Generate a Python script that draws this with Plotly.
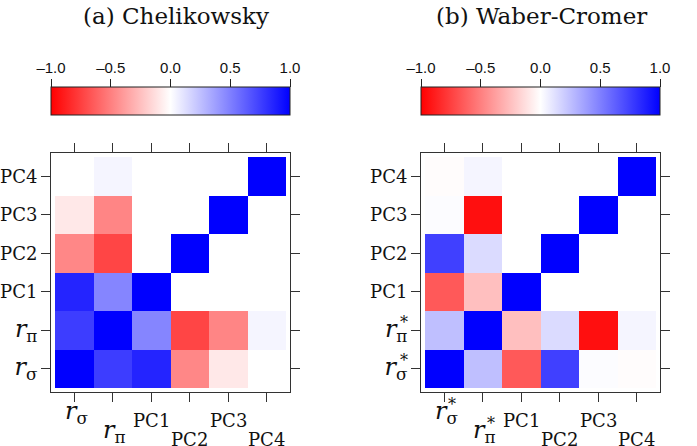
import plotly.graph_objects as go

W, H = 697, 446

# ---------------- data ----------------
idx = [0, 1, 2, 3, 4, 5]
var_labels = ["<span style='font-size:24px'><i>r</i><sub>σ</sub></span>",
              "<span style='font-size:24px'><i>r</i><sub>π</sub></span>",
              "PC1", "PC2", "PC3", "PC4"]
is_math = [True, True, False, False, False, False]
stars_a = [False, False, False, False, False, False]
stars_b = [True, True, False, False, False, False]

# (a) Chelikowsky correlation matrix rows (order: r_sigma, r_pi, PC1, PC2, PC3, PC4)
a_rsigma = [1.00, 0.76, 0.86, -0.47, -0.09, 0.00]
a_rpi    = [0.76, 1.00, 0.48, -0.73, -0.48, 0.04]
a_pc1    = [0.86, 0.48, 1.00, 0.00, 0.00, 0.00]
a_pc2    = [-0.47, -0.73, 0.00, 1.00, 0.00, 0.00]
a_pc3    = [-0.09, -0.48, 0.00, 0.00, 1.00, 0.00]
a_pc4    = [0.00, 0.04, 0.00, 0.00, 0.00, 1.00]

# (b) Waber-Cromer correlation matrix rows
b_rsigma = [1.00, 0.25, -0.65, 0.75, 0.01, -0.01]
b_rpi    = [0.25, 1.00, -0.25, 0.14, -0.94, 0.04]
b_pc1    = [-0.65, -0.25, 1.00, 0.00, 0.00, 0.00]
b_pc2    = [0.75, 0.14, 0.00, 1.00, 0.00, 0.00]
b_pc3    = [0.01, -0.94, 0.00, 0.00, 1.00, 0.00]
b_pc4    = [-0.01, 0.04, 0.00, 0.00, 0.00, 1.00]

cbar_ticks = [-1.0, -0.5, 0.0, 0.5, 1.0]
cbar_labels = ["–1.0", "–0.5", "0.0", "0.5", "1.0"]

titles = ["(a) Chelikowsky", "(b) Waber-Cromer"]

z_a = [a_rsigma, a_rpi, a_pc1, a_pc2, a_pc3, a_pc4]
z_b = [b_rsigma, b_rpi, b_pc1, b_pc2, b_pc3, b_pc4]

# ---------------- layout geometry (pixels) ----------------
FT, FB = 153, 392          # frame top / bottom
CB_T, CB_B = 88, 116       # colorbar top / bottom
PAD = 0.604
SERIF = "DejaVu Serif"
SANS = "Liberation Sans"
LINE = "#333333"
TXT = "#111111"
TICK_FS = 18

colorscale = [[0.0, "#FF0000"], [0.5, "#FFFFFF"], [1.0, "#0000FF"]]

panels = [
    dict(z=z_a, x0=51, x1=290, title=titles[0], tcx=176, stars=stars_a),
    dict(z=z_b, x0=421, x1=660, title=titles[1], tcx=541, stars=stars_b),
]

fig = go.Figure()
annotations = []
layout = {}

for k, p in enumerate(panels):
    hx = "x" if k == 0 else "x2"
    hy = "y" if k == 0 else "y2"
    cx = "x3" if k == 0 else "x4"
    cy = "y3" if k == 0 else "y4"
    x0, x1 = p["x0"], p["x1"]
    dom_x = [x0 / W, x1 / W]

    fig.add_trace(go.Heatmap(
        z=p["z"], x=idx, y=idx, xaxis=hx, yaxis=hy,
        colorscale=colorscale, zmin=-1, zmax=1, hoverinfo="skip",
        colorbar=dict(
            orientation="h", x=(x0 + x1) / 2 / W, xanchor="center",
            y=1 - CB_B / H, yanchor="bottom", lenmode="pixels", len=x1 - x0,
            thickness=CB_B - CB_T, outlinewidth=1, outlinecolor="#222222",
            ticks="", showticklabels=False, xpad=0, ypad=0,
        ),
    ))
    fig.add_trace(go.Scatter(x=[], y=[], xaxis=cx, yaxis=cy,
                             showlegend=False, hoverinfo="skip"))

    rng = [-PAD, 5 + PAD]
    axx = dict(domain=dom_x, anchor=hy, range=rng,
               tickvals=idx, showticklabels=False, ticks="outside", ticklen=9,
               tickcolor=LINE, tickwidth=1, showline=True, linecolor=LINE, linewidth=1,
               mirror="ticks", showgrid=False, zeroline=False, fixedrange=True)
    axy = dict(domain=[1 - FB / H, 1 - FT / H], anchor=hx, range=rng,
               tickvals=idx, ticktext=var_labels, ticks="outside", ticklen=9,
               tickcolor=LINE, tickwidth=1, showline=True, linecolor=LINE, linewidth=1,
               mirror="ticks", showgrid=False, zeroline=False, fixedrange=True,
               tickfont=dict(family=SERIF, size=TICK_FS, color=TXT))
    cax = dict(domain=dom_x, anchor=cy, side="top", range=[-1, 1],
               tickvals=cbar_ticks, ticktext=cbar_labels, ticks="outside", ticklen=8,
               tickcolor="#222222", tickwidth=1, showline=False, showgrid=False,
               zeroline=False, fixedrange=True,
               tickfont=dict(family=SANS, size=15, color=TXT))
    cay = dict(domain=[1 - CB_B / H, 1 - CB_T / H], anchor=cx, range=[0, 1],
               visible=False, fixedrange=True)

    layout["xaxis" if k == 0 else "xaxis2"] = axx
    layout["yaxis" if k == 0 else "yaxis2"] = axy
    layout["xaxis3" if k == 0 else "xaxis4"] = cax
    layout["yaxis3" if k == 0 else "yaxis4"] = cay

    # title
    annotations.append(dict(text=p["title"], x=p["tcx"] / W, y=1 - 16 / H,
                            xref="paper", yref="paper", xanchor="center", yanchor="middle",
                            showarrow=False, font=dict(family=SERIF, size=23, color=TXT)))

    # staggered x tick labels
    for i, lab in enumerate(var_labels):
        low = (i % 2 == 1)
        cy_px = (439 if low else 420) - (8 if is_math[i] else 0)
        annotations.append(dict(text=lab, x=idx[i], y=1 - cy_px / H, xref=hx, yref="paper",
                                xanchor="center", yanchor="middle", showarrow=False,
                                xshift=(2 if is_math[i] else 0),
                                font=dict(family=SERIF, size=TICK_FS, color=TXT)))
        if p["stars"][i]:
            annotations.append(dict(text="*", x=idx[i], y=1 - (cy_px - 8) / H, xref=hx,
                                    yref="paper", xanchor="center", yanchor="middle",
                                    xshift=8, showarrow=False,
                                    font=dict(family=SERIF, size=16, color=TXT)))
            # star on y tick label
            annotations.append(dict(text="*", x=x0 / W, y=idx[i], xref="paper", yref=hy,
                                    xanchor="center", yanchor="middle",
                                    xshift=-17, yshift=8, showarrow=False,
                                    font=dict(family=SERIF, size=16, color=TXT)))

fig.update_layout(
    width=W, height=H, autosize=False,
    margin=dict(l=0, r=0, t=0, b=0, autoexpand=False),
    paper_bgcolor="white", plot_bgcolor="white",
    showlegend=False, annotations=annotations, **layout,
)

fig.write_html("out.html", config={"displayModeBar": False},
               post_script="document.body.style.margin='0';document.body.style.overflow='hidden';")
